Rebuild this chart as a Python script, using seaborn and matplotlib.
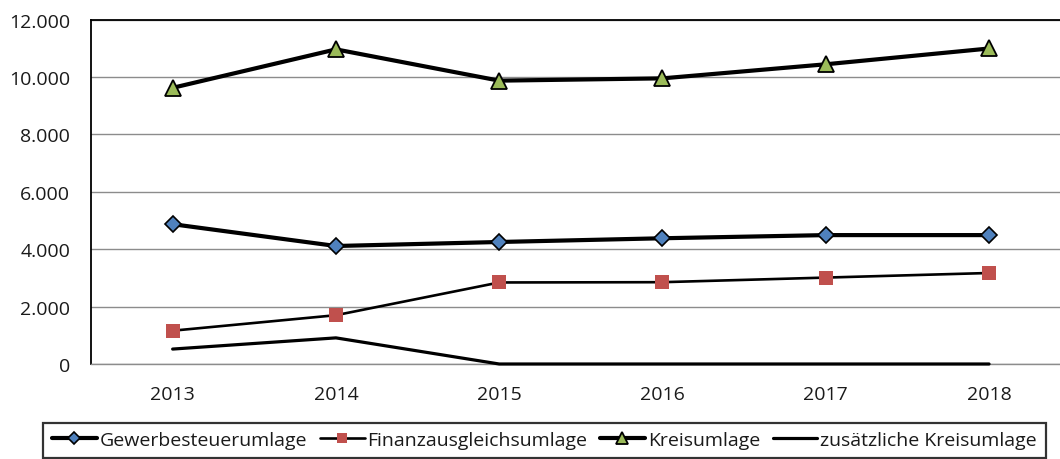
import matplotlib
matplotlib.use("Agg")
import matplotlib.pyplot as plt
import matplotlib.ticker as mticker
import seaborn as sns
import pandas as pd

years = [2013, 2014, 2015, 2016, 2017, 2018]
gewerbe = [4870, 4110, 4250, 4380, 4490, 4490]
finanz = [1160, 1700, 2840, 2850, 3010, 3170]
kreis = [9620, 10960, 9870, 9950, 10440, 10990]
zusatz = [520, 910, 0, 0, 0, 0]

labels = ["Gewerbesteuerumlage", "Finanzausgleichsumlage", "Kreisumlage", "zusätzliche Kreisumlage"]

sns.set_style("white")
plt.rcParams["font.family"] = ["Open Sans", "DejaVu Sans"]

fig = plt.figure(figsize=(10.6, 4.6), dpi=100)
ax = fig.add_axes([91 / 1060, 1 - 365 / 460, 1 - 91 / 1060, (365 - 20.5) / 460])

df = pd.DataFrame({"year": years, "g": gewerbe, "f": finanz, "k": kreis, "z": zusatz})

sns.lineplot(data=df, x="year", y="g", ax=ax, color="black", lw=3.0,
             marker="D", markersize=8, markerfacecolor="#4F81BD",
             markeredgecolor="black", markeredgewidth=1.2, label=labels[0], zorder=5)
sns.lineplot(data=df, x="year", y="f", ax=ax, color="black", lw=1.9,
             marker="s", markersize=9.5, markerfacecolor="#C0504D",
             markeredgecolor="#C0504D", markeredgewidth=0, label=labels[1], zorder=5)
sns.lineplot(data=df, x="year", y="k", ax=ax, color="black", lw=3.0,
             marker="^", markersize=12, markerfacecolor="#9BBB59",
             markeredgecolor="black", markeredgewidth=1.3, label=labels[2], zorder=5)
sns.lineplot(data=df, x="year", y="z", ax=ax, color="black", lw=2.3,
             label=labels[3], zorder=4, clip_on=False)

ax.set_xlim(2012.5, 2012.5 + (1060 - 90.3) / 163.4)
ax.set_ylim(0, 12000)
ax.set_xticks(years)
ax.set_xticklabels([str(y) for y in years])
ax.set_yticks(range(0, 12001, 2000))
ax.yaxis.set_major_formatter(mticker.FuncFormatter(lambda v, p: f"{int(v):,}".replace(",", ".")))
ax.set_xlabel("")
ax.set_ylabel("")
ax.grid(axis="y", color="#8c8c8c", lw=1.0)
ax.set_axisbelow(True)
ax.tick_params(axis="x", length=0, pad=15, labelsize=14, colors="#1a1a1a")
ax.tick_params(axis="y", length=0, pad=15, labelsize=14, colors="#1a1a1a")

for s in ["left", "top"]:
    ax.spines[s].set_color("black")
    ax.spines[s].set_linewidth(1.3)
ax.spines["right"].set_visible(False)
ax.spines["bottom"].set_color("#8c8c8c")
ax.spines["bottom"].set_linewidth(1.0)

ax.get_legend().remove()
h, l = ax.get_legend_handles_labels()
leg = fig.legend(h, l, loc="lower center", ncol=4, bbox_to_anchor=(544.5 / 1060, 1.0 / 460),
                 bbox_transform=fig.transFigure, fontsize=14, frameon=True, fancybox=False,
                 handlelength=2.3, handletextpad=0.15, columnspacing=0.65, borderpad=0.45,
                 borderaxespad=0, markerscale=0.75)
leg.get_frame().set_edgecolor("black")
leg.get_frame().set_linewidth(1.6)
for t in leg.get_texts():
    t.set_color("#1a1a1a")

fig.savefig("out.png", dpi=100)
